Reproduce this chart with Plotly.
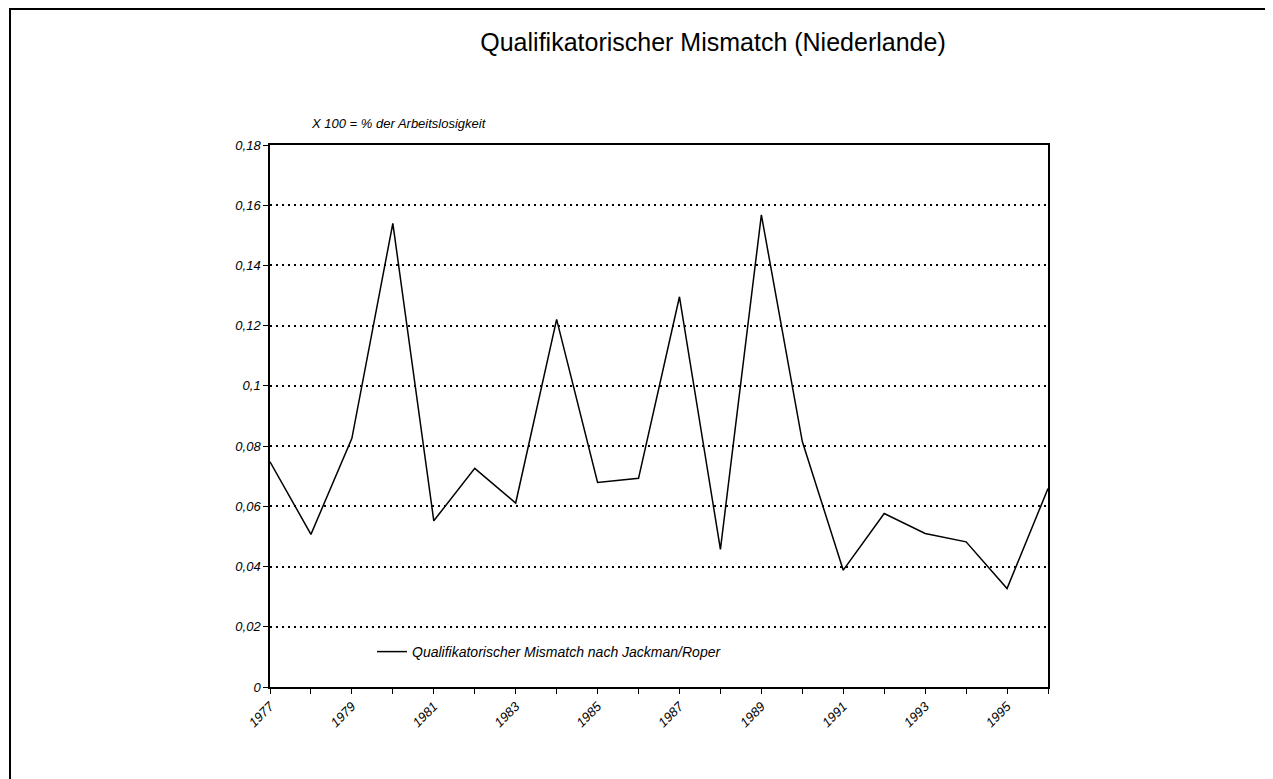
import plotly.graph_objects as go

years = list(range(1977, 1997))
mismatch = [0.0748, 0.0507, 0.0826, 0.154, 0.0552, 0.0726, 0.0611, 0.1221, 0.0679, 0.0693,
            0.1296, 0.0457, 0.1568, 0.0815, 0.0388, 0.0576, 0.051, 0.0482, 0.0327, 0.0659]
x_tick_text = [str(y) if y % 2 == 1 else "" for y in years]
y_tick_vals = [0, 0.02, 0.04, 0.06, 0.08, 0.1, 0.12, 0.14, 0.16, 0.18]
y_tick_text = ["0", "0,02", "0,04", "0,06", "0,08", "0,1", "0,12", "0,14", "0,16", "0,18"]

FONT = "Liberation Sans, Arial, sans-serif"

W, H = 1265, 771
L, R, T, B = 262, 225, 137, 92
PW, PH = W - L - R, H - T - B


def px(xf):
    return (xf - L) / PW


def py(yf):
    return (H - B - yf) / PH


fig = go.Figure()
fig.add_trace(go.Scatter(
    x=years, y=mismatch, mode="lines",
    name="Qualifikatorischer Mismatch nach Jackman/Roper",
    line=dict(color="black", width=1.5),
))

fig.update_layout(
    width=W, height=H,
    paper_bgcolor="white", plot_bgcolor="white",
    margin=dict(l=L, r=R, t=T, b=B),
    font=dict(family=FONT, color="black"),
    title=dict(text="Qualifikatorischer Mismatch (Niederlande)",
               x=705 / W, xanchor="center", y=1 - 34 / H, yanchor="middle",
               font=dict(family=FONT, size=25, color="black")),
    showlegend=True,
    legend=dict(x=px(364), y=py(644), xanchor="left", yanchor="middle",
                bgcolor="rgba(0,0,0,0)", itemwidth=30,
                font=dict(family=FONT, size=14, style="italic", color="black")),
    xaxis=dict(range=[1977, 1996], tickvals=years, ticktext=x_tick_text,
               tickangle=-45, ticks="outside", ticklen=5, tickcolor="black",
               showline=True, linecolor="black", linewidth=1.5, mirror=True,
               showgrid=False, zeroline=False,
               tickfont=dict(family=FONT, size=13, style="italic", color="black")),
    yaxis=dict(range=[0, 0.18], tickvals=y_tick_vals, ticktext=y_tick_text,
               ticks="outside", ticklen=5, tickcolor="black",
               showline=True, linecolor="black", linewidth=1.5, mirror=True,
               showgrid=True, gridcolor="black", griddash="2px,4px", gridwidth=2,
               zeroline=False,
               tickfont=dict(family=FONT, size=13, style="italic", color="black")),
    annotations=[dict(text="X 100 = % der Arbeitslosigkeit", xref="paper", yref="paper",
                      x=px(301), y=py(116), xanchor="left", yanchor="middle",
                      showarrow=False,
                      font=dict(family=FONT, size=13, style="italic", color="black"))],
    shapes=[dict(type="rect", xref="paper", yref="paper",
                 x0=px(2), x1=px(1263), y0=py(800), y1=py(1),
                 line=dict(color="black", width=2), layer="below")],
)

fig.write_html("out.html")
